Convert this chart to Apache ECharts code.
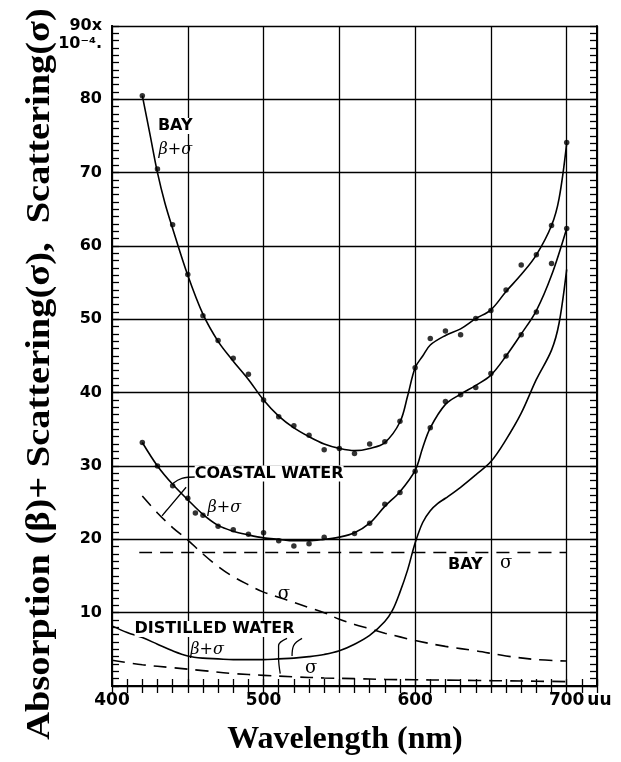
<!DOCTYPE html>
<html><head><meta charset="utf-8">
<script src="https://cdn.jsdelivr.net/npm/echarts@6/dist/echarts.min.js"></script>
<style>html,body{margin:0;padding:0;background:#fff}#c{width:621px;height:762px}</style>
</head><body><div id="c"></div>
<script>
// ---- data (wavelength nm, value x10^-4) ----
const bayCurveX = [420,425,430,435,440,450,460,470,480,490,500,510,520,530,540,550,560,570,580,590,595,600,605,610,620,630,640,650,660,670,680,690,695,700];
const bayCurveY = [80.5,75.3,70,65.8,62.4,56,50.7,47,44.3,41.8,39,36.8,35.2,34,33,32.4,32.1,32.4,33.2,36,39.5,43.4,45,46.5,47.8,48.7,50.1,51.3,53.8,56.1,58.8,62.8,66.5,74];
const bayDotX = [420,430,440,450,460,470,480,490,500,510,520,530,540,550,560,570,580,590,600,610,620,630,640,650,660,670,680,690,700];
const bayDotY = [80.5,70.5,62.9,56.1,50.5,47.1,44.7,42.5,39.0,36.7,35.5,34.2,32.2,32.4,31.7,33.0,33.3,36.1,43.4,47.4,48.4,47.9,50.1,51.2,54.0,57.4,58.8,62.8,74.1];

const coastCurveX = [420,430,440,450,460,470,480,490,500,510,520,530,540,550,560,570,580,590,600,605,610,620,630,640,650,660,670,680,690,700];
const coastCurveY = [33.2,30,27.5,25.4,23.4,21.9,21.1,20.6,20.2,20.0,19.8,19.8,20.0,20.3,20.9,22.2,24.5,26.5,29.4,32.5,35.2,38.4,39.8,41.0,42.4,45,48,51.2,56,62.4];
const coastDotX = [420,430,440,450,455,460,470,480,490,500,510,520,530,540,560,570,580,590,600,610,620,630,640,650,660,670,680,690,700];
const coastDotY = [33.2,30.0,27.3,25.6,23.6,23.3,21.8,21.3,20.7,20.9,19.8,19.1,19.4,20.3,20.8,22.2,24.8,26.4,29.3,35.2,38.8,39.7,40.7,42.6,45.0,47.9,51.0,57.6,62.4];

const distCurveX = [400,410,420,430,440,450,460,470,480,490,500,510,520,530,540,550,560,570,580,585,590,595,600,605,610,615,620,630,640,650,660,670,680,690,695,700];
const distCurveY = [8.2,7.3,6.6,5.7,4.8,4.1,3.8,3.7,3.6,3.6,3.6,3.7,3.8,4.0,4.3,4.8,5.7,6.9,8.8,10.3,12.8,15.8,19.5,22.3,23.9,24.9,25.6,27.1,28.8,30.6,33.6,37.2,41.8,45.8,49.5,56.8];

const baySigmaX = [418,700];
const baySigmaY = [18.2,18.2];
const coastSigmaX = [420,430,440,450,460,470,480,490,500,510,520,530,540,550,560,570,580,590,600,620,640,660,680,700];
const coastSigmaY = [25.9,23.6,21.6,19.9,18.0,16.3,14.9,13.8,12.8,12.1,11.4,10.7,10.0,9.1,8.4,7.8,7.2,6.7,6.2,5.4,4.8,4.1,3.6,3.4];
const distSigmaX = [400,420,440,460,480,500,520,540,560,580,600,620,640,660,680,700];
const distSigmaY = [3.5,2.9,2.5,2.1,1.7,1.45,1.25,1.1,1.0,0.9,0.85,0.8,0.75,0.7,0.65,0.6];

const xTickLabels = {400:'400',500:'500',600:'600',700:'700'};
const yTickLabels = [10,20,30,40,50,60,70,80];

// annotation texts: [wavelength, value, text, style]
const annotations = [
  [430.6,76.3,'BAY','cap'],
  [431,73.1,'β+σ','gr'],
  [454.9,28.9,'COASTAL WATER','cap'],
  [463.4,24.2,'β+σ','gr'],
  [622,16.5,'BAY','cap'],
  [656.4,16.7,'σ','sg'],
  [509.7,12.4,'σ','sg'],
  [415.2,7.7,'DISTILLED WATER','cap'],
  [452,4.9,'β+σ','gr'],
  [527.6,2.3,'σ','sg']
];
const leaders = [
  [[454.9,28.5],[446.1,28.3],[440.1,27.6]],
  [[448.9,27.1],[433.0,23.2],[436.2,24.0]],
  [[515.5,6.5],[509.9,5.5],[509.9,3.9],[511,1.7]],
  [[525.4,6.5],[519.8,5.5],[518.8,4.1]]
];

const pairs = (xs, ys) => xs.map((x,i)=>[x, ys[i]]);
const lineS = (xs, ys, dashed) => ({
  type:'line', data:pairs(xs,ys), smooth:0.35, symbol:'none', silent:true,
  lineStyle:{color:'#000', width:1.6, type: dashed ? [13,8] : 'solid'}, z:5
});
const dotS = (xs, ys) => ({
  type:'scatter', data:pairs(xs,ys), symbol:'circle', symbolSize:5.5,
  itemStyle:{color:'#000'}, z:6, silent:true
});

const chart = echarts.init(document.getElementById('c'), null, {renderer:'canvas'});
const tickAxisX = (pos) => ({
  type:'value', min:400, max:720, interval:10, position:pos,
  axisLine:{show:true, lineStyle:{color:'#000', width:2}},
  axisTick:{show:true, inside:true, length:7, lineStyle:{color:'#000', width:1.3}},
  axisLabel:{show:false}, splitLine:{show:false}
});
const tickAxisY = (pos) => ({
  type:'value', min:0, max:90, interval:1, position:pos,
  axisLine:{show:true, lineStyle:{color:'#000', width:2}},
  axisTick:{show:true, inside:true, length:7, lineStyle:{color:'#000', width:1.3}},
  axisLabel:{show:false}, splitLine:{show:false}
});

chart.setOption({
  backgroundColor:'#fff',
  animation:false,
  grid:{left:112, right:24, top:17, bottom:76, containLabel:false},
  xAxis:[
    {type:'value', min:400, max:720, interval:50, position:'bottom',
     axisLine:{show:true, lineStyle:{color:'#000', width:2}},
     axisTick:{show:false},
     splitLine:{show:true, lineStyle:{color:'#000', width:1.3}},
     axisLabel:{color:'#000', margin:6, fontSize:17, fontFamily:'DejaVu Sans', fontWeight:'bold',
       formatter:(v)=> v===700 ? '{p| }{a|700}{u|uu}' : (xTickLabels[v] || ''),
       rich:{p:{width:30}, a:{fontSize:17, fontFamily:'DejaVu Sans', fontWeight:'bold', color:'#000'},
             u:{width:30, fontSize:17, fontFamily:'DejaVu Sans', fontWeight:'bold', color:'#000'}}}},
    tickAxisX('bottom'),
    tickAxisX('top')
  ],
  yAxis:[
    {type:'value', min:0, max:90, interval:10, position:'left',
     axisLine:{show:true, lineStyle:{color:'#000', width:2}},
     axisTick:{show:false},
     splitLine:{show:true, lineStyle:{color:'#000', width:1.3}},
     axisLabel:{color:'#000', margin:10, fontSize:16, fontFamily:'DejaVu Sans', fontWeight:'bold',
       formatter:(v)=> v===90 ? '{e| }\n{a|90x}\n{a|10⁻⁴.}' : (yTickLabels.includes(v) ? String(v) : ''),
       rich:{e:{lineHeight:18}, a:{lineHeight:18, fontSize:16, fontFamily:'DejaVu Sans', fontWeight:'bold', color:'#000', align:'right'}}}},
    tickAxisY('left'),
    tickAxisY('right')
  ],
  graphic:[
    {type:'text', x:40, y:374, rotation:Math.PI/2, scaleX:1.13,
     style:{text:'Absorption (β)+ Scattering(σ),  Scattering(σ)', font:'bold 34px "Liberation Serif"', fill:'#000', textAlign:'center', textVerticalAlign:'middle'}},
    {type:'text', x:345, y:740,
     style:{text:'Wavelength (nm)', font:'bold 32px "Liberation Serif"', fill:'#000', textAlign:'center', textVerticalAlign:'middle'}}
  ],
  series:[
    lineS(bayCurveX, bayCurveY, false),
    dotS(bayDotX, bayDotY),
    lineS(coastCurveX, coastCurveY, false),
    dotS(coastDotX, coastDotY),
    lineS(distCurveX, distCurveY, false),
    lineS(baySigmaX, baySigmaY, true),
    lineS(coastSigmaX, coastSigmaY, true),
    lineS(distSigmaX, distSigmaY, true),
    ...leaders.map(l => ({type:'line', data:l, smooth:0.4, symbol:'none', silent:true, lineStyle:{color:'#000', width:1.3}, z:5})),
    {type:'scatter', data:annotations, symbolSize:1, itemStyle:{color:'rgba(0,0,0,0)'}, silent:true, z:7,
     label:{show:true, position:[0,0], align:'left', verticalAlign:'middle', color:'#000', opacity:1,
       formatter:(p)=> '{' + p.data[3] + '|' + p.data[2] + '}',
       rich:{cap:{fontSize:16, fontFamily:'DejaVu Sans', fontWeight:'bold', color:'#000', backgroundColor:'#fff'},
             gr:{fontSize:16, fontFamily:'DejaVu Serif', fontStyle:'italic', color:'#000'},
             sg:{fontSize:18, fontFamily:'DejaVu Serif', color:'#000'}}}}
  ]
});
</script></body></html>
